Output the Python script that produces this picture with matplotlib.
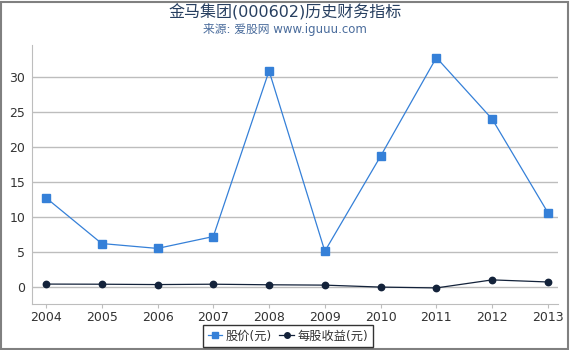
import matplotlib
matplotlib.use('Agg')
import matplotlib.pyplot as plt
from matplotlib.patches import Rectangle
from matplotlib.lines import Line2D

plt.rcParams['font.family'] = ['DejaVu Sans', 'Noto Sans CJK SC']

years = [2004, 2005, 2006, 2007, 2008, 2009, 2010, 2011, 2012, 2013]
price = [12.75, 6.2, 5.5, 7.2, 30.9, 5.1, 18.7, 32.8, 24.0, 10.6]
eps = [0.4, 0.38, 0.33, 0.38, 0.3, 0.25, -0.03, -0.15, 1.0, 0.7]
yticks = [0, 5, 10, 15, 20, 25, 30]

price_color = '#3580d8'
eps_color = '#13223a'

fig = plt.figure(figsize=(5.7, 3.5), dpi=100)
ax = fig.add_axes([32/570, 1-304/350, (558-32)/570, (304-45)/350])

ax.plot(years, price, color=price_color, lw=0.9, marker='s', ms=5.2,
        markerfacecolor=price_color, markeredgecolor=price_color, label='股价(元)')
ax.plot(years, eps, color=eps_color, lw=0.9, marker='o', ms=4.6,
        markerfacecolor=eps_color, markeredgecolor=eps_color, label='每股收益(元)')

ax.set_xlim(2003.75, 2013.18)
ax.set_ylim(-2.45, 34.6)
ax.set_xticks(years)
ax.set_yticks(yticks)
ax.grid(axis='y', color='#bdbdbd', lw=1)
ax.set_axisbelow(True)
for s in ['top', 'right']:
    ax.spines[s].set_visible(False)
ax.spines['left'].set_color('#bdbdbd')
ax.spines['bottom'].set_color('#bdbdbd')
ax.tick_params(axis='x', length=3, color='#bdbdbd', labelsize=9,
               labelcolor='#333333', pad=2)
ax.tick_params(axis='y', length=0, labelsize=9, labelcolor='#333333', pad=5)

fig.text(0.5, 1-12/350, '金马集团(000602)历史财务指标', ha='center', va='center',
         fontsize=11.5, color='#273f60')
fig.text(0.5, 1-29/350, '来源: 爱股网 www.iguuu.com', ha='center', va='center',
         fontsize=8.5, color='#4a6c9c')

handles = [Line2D([], [], color=price_color, marker='s', ms=4, lw=0.9),
           Line2D([], [], color=eps_color, marker='o', ms=4, lw=0.9)]
leg = fig.legend(handles, ['股价(元)', '每股收益(元)'], loc='center',
                 bbox_to_anchor=(288/570, 1-336/350), ncol=2, fontsize=8.8,
                 frameon=True, fancybox=False, handlelength=1.2,
                 handletextpad=0.3, columnspacing=0.6, borderpad=0.35,
                 labelcolor='#333333')
leg.get_frame().set_edgecolor('black')
leg.get_frame().set_linewidth(1)

# outer border
fig.patches.append(Rectangle((0.5/570, 1.5/350), 567/570, 347/350,
                             transform=fig.transFigure, fill=False,
                             edgecolor='#808080', lw=1.5))
fig.patches.append(Rectangle((567/570, 0.5/350), 2/570, 348/350,
                             transform=fig.transFigure, color='#808080', lw=0))
fig.patches.append(Rectangle((0, 0.5/350), 569/570, 2/350,
                             transform=fig.transFigure, color='#808080', lw=0))

fig.savefig('out.png', dpi=100)
